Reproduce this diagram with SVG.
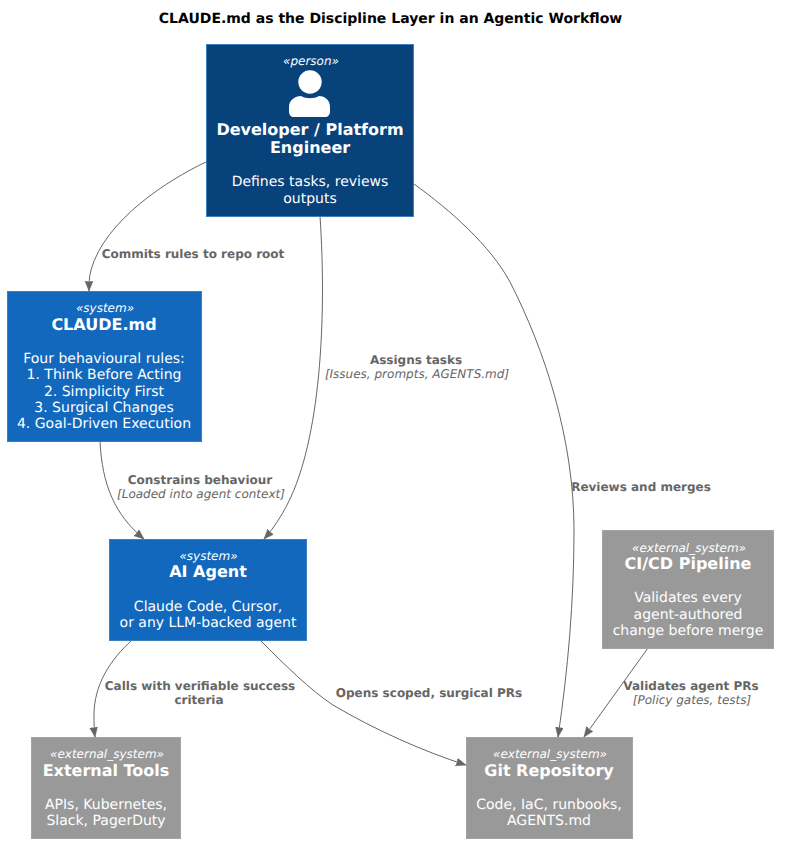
<svg xmlns="http://www.w3.org/2000/svg" width="786" height="851" viewBox="0 0 786 851">
<style>
text{font-family:"DejaVu Sans",sans-serif;text-anchor:middle;text-rendering:geometricPrecision}
.title{font-size:14px;font-weight:bold;fill:#000}
.st{font-size:12px;font-style:italic;fill:#fff}
.nm{font-size:16px;font-weight:bold;fill:#fff}
.ds{font-size:14px;fill:#fff}
.lb{font-size:12px;font-weight:bold;fill:#666}
.tc{font-size:12px;font-style:italic;fill:#666}
.p{fill:#08427B;stroke:#3C7FC0}
.s{fill:#1168BD;stroke:#3C7FC0}
.e{fill:#999;stroke:#A3A3A3}
.c{fill:none;stroke:#666;stroke-width:1;marker-end:url(#a)}
</style>
<defs><marker id="a" markerUnits="userSpaceOnUse" markerWidth="12" markerHeight="10" refX="10" refY="4" orient="auto"><path d="M0 0L10 4L0 8L1 4Z" fill="#666" stroke="#666" stroke-width=".5" stroke-linejoin="miter"/></marker></defs>
<rect width="786" height="851" fill="#fff"/>
<text class="title" x="390.500" y="23">CLAUDE.md as the Discipline Layer in an Agentic Workflow</text>
<g id="connectors">
<path class="c" d="M206 162C168 180 105 220 91 270C89 277 89 284 89 291"/>
<path class="c" d="M320 216C327 320 320 440 288 503C282 515 274 528 264 539"/>
<path class="c" d="M414 184C450 210 490 245 510 282C545 350 574 440 574 530C574 600 568 670 558 737"/>
<path class="c" d="M100 441C102 485 115 515 144 539"/>
<path class="c" d="M132 640C110 660 94 685 94 715C94 722 94 730 95 737"/>
<path class="c" d="M260 640C285 665 310 690 333 705C375 730 425 752 466 765"/>
<path class="c" d="M648 648L584 737"/>
</g>
<g id="edge-labels">
<text class="lb" x="193" y="258">Commits rules to repo root</text>
<text class="lb" x="416" y="364">Assigns tasks</text><text class="tc" x="417" y="378">[Issues, prompts, AGENTS.md]</text>
<text class="lb" x="641" y="491">Reviews and merges</text>
<text class="lb" x="200" y="484">Constrains behaviour</text><text class="tc" x="201" y="498">[Loaded into agent context]</text>
<text class="lb" x="200" y="690">Calls with verifiable success</text><text class="lb" x="199" y="704">criteria</text>
<text class="lb" x="429" y="697">Opens scoped, surgical PRs</text>
<text class="lb" x="691" y="690">Validates agent PRs</text><text class="tc" x="692" y="704">[Policy gates, tests]</text>
</g>
<g id="developer">
<rect class="p" x="206.500" y="44.500" width="207" height="172"/>
<text class="st" x="311" y="65">«person»</text>
<circle cx="310" cy="82" r="11.700" fill="#fff"/>
<path d="M289 111V107C289 100 295 96 301 96C306 99 314 99 319 96C325 96 330 100 330 107V111C330 115 328 117 325 117H294C291 117 289 115 289 111Z" fill="#fff"/>
<text class="nm" x="310" y="135">Developer / Platform</text>
<text class="nm" x="310" y="153">Engineer</text>
<text class="ds" x="310" y="186">Defines tasks, reviews</text>
<text class="ds" x="310" y="203">outputs</text>
</g>
<g id="claude-md">
<rect class="s" x="7.500" y="291.500" width="194" height="150"/>
<text class="st" x="105" y="312">«system»</text>
<text class="nm" x="104" y="330">CLAUDE.md</text>
<text class="ds" x="104" y="363">Four behavioural rules:</text>
<text class="ds" x="104" y="379">1. Think Before Acting</text>
<text class="ds" x="104" y="396">2. Simplicity First</text>
<text class="ds" x="104" y="412">3. Surgical Changes</text>
<text class="ds" x="104" y="428">4. Goal-Driven Execution</text>
</g>
<g id="ai-agent">
<rect class="s" x="109.500" y="539.500" width="197" height="101"/>
<text class="st" x="208.500" y="560">«system»</text>
<text class="nm" x="208" y="577">AI Agent</text>
<text class="ds" x="208" y="611">Claude Code, Cursor,</text>
<text class="ds" x="208" y="627">or any LLM-backed agent</text>
</g>
<g id="cicd">
<rect class="e" x="602.500" y="530.500" width="171" height="118"/>
<text class="st" x="689" y="552">«external_system»</text>
<text class="nm" x="688" y="569">CI/CD Pipeline</text>
<text class="ds" x="688" y="602">Validates every</text>
<text class="ds" x="688" y="619">agent-authored</text>
<text class="ds" x="688" y="635">change before merge</text>
</g>
<g id="tools">
<rect class="e" x="31.500" y="737.500" width="149" height="101"/>
<text class="st" x="107" y="758">«external_system»</text>
<text class="nm" x="106" y="776">External Tools</text>
<text class="ds" x="106" y="809">APIs, Kubernetes,</text>
<text class="ds" x="106" y="825">Slack, PagerDuty</text>
</g>
<g id="git">
<rect class="e" x="466.500" y="737.500" width="166" height="101"/>
<text class="st" x="550" y="758">«external_system»</text>
<text class="nm" x="549" y="776">Git Repository</text>
<text class="ds" x="549" y="809">Code, IaC, runbooks,</text>
<text class="ds" x="549" y="825">AGENTS.md</text>
</g>
</svg>
